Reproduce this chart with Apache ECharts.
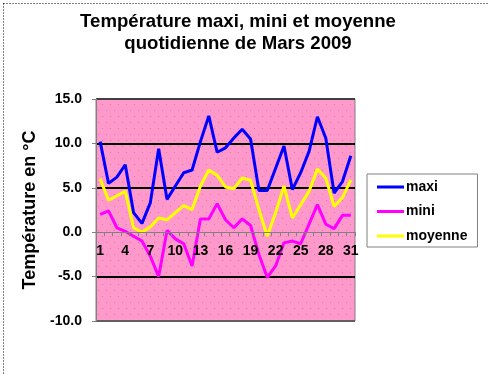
<!DOCTYPE html>
<html><head><meta charset="utf-8">
<script src="https://cdn.jsdelivr.net/npm/echarts@6/dist/echarts.min.js"></script>
<style>html,body{margin:0;padding:0;background:#fff}#c{width:488px;height:375px}</style>
</head><body><div id="c"></div>
<script>
const days = Array.from({length:31},(_,i)=>String(i+1));
const maxi = [10.2,5.5,6.2,7.6,2.2,1.0,3.3,9.4,3.7,5.2,6.7,7.0,10.2,13.1,9.0,9.5,10.6,11.6,10.5,4.7,4.7,7.2,9.7,4.8,6.7,9.1,13.0,10.6,4.4,5.7,8.6];
const mini = [2.0,2.4,0.5,0.1,-0.45,-1.0,-2.7,-5.0,0.2,-0.75,-1.3,-3.8,1.5,1.5,3.2,1.4,0.5,1.5,0.75,-2.5,-5.1,-3.8,-1.2,-1.0,-1.3,0.9,3.1,0.9,0.4,1.9,1.9];
const moyenne = [6.0,3.6,4.1,4.6,0.5,0.0,0.6,1.6,1.4,2.2,3.0,2.55,5.2,7.0,6.4,5.1,4.9,6.1,5.85,2.55,-0.45,2.2,5.2,1.6,3.1,4.6,7.1,6.1,2.9,3.9,5.9];
const yTicks = {min:-10, max:15, interval:5};
const FONT = 'Liberation Sans, Arial, sans-serif';
const GRID = {left:96, top:99, width:259, height:222};
// distance of the zero line above the bottom of the plot
const zeroOffset = GRID.height * (0 - yTicks.min) / (yTicks.max - yTicks.min);

// dotted pink plot-area fill
const tile = document.createElement('canvas');
tile.width = 8; tile.height = 12;
const tctx = tile.getContext('2d');
tctx.fillStyle = '#ff99cc'; tctx.fillRect(0,0,8,12);
tctx.fillStyle = '#d97aab'; tctx.fillRect(2,2,1,1); tctx.fillRect(6,8,1,1);
const plotFill = {image: tile, repeat: 'repeat'};

const chart = echarts.init(document.getElementById('c'), null, {renderer:'canvas'});
chart.setOption({
  animation:false,
  backgroundColor:'#fff',
  grid:Object.assign({show:true, backgroundColor:plotFill, borderColor:'#808080', borderWidth:1}, GRID),
  legend:{
    orient:'vertical', left:367, top:174,
    borderColor:'#808080', borderWidth:1, padding:[6,10,4,10],
    itemWidth:27, itemHeight:3, itemGap:10.5, icon:'rect',
    textStyle:{fontFamily:FONT, fontWeight:'bold', fontSize:14, color:'#000', padding:[0,0,0,-3]},
    data:['maxi','mini','moyenne']
  },
  xAxis:{
    type:'category', data:days, boundaryGap:true, position:'bottom', offset:-zeroOffset, z:5,
    axisLine:{onZero:false, lineStyle:{color:'#808080', width:1}},
    axisTick:{show:true, interval:0, length:4, lineStyle:{color:'#808080'}},
    axisLabel:{interval:2, margin:12, fontFamily:FONT, fontWeight:'bold', fontSize:14, color:'#000'},
    splitLine:{show:false}
  },
  yAxis:{
    type:'value', min:yTicks.min, max:yTicks.max, interval:yTicks.interval,
    name:'Température en °C', nameLocation:'middle', nameRotate:90, nameGap:57,
    nameTextStyle:{fontFamily:FONT, fontWeight:'bold', fontSize:18, color:'#000'},
    axisLine:{show:true, onZero:false, lineStyle:{color:'#808080'}},
    axisTick:{show:true, length:4, lineStyle:{color:'#808080'}},
    axisLabel:{margin:14, fontFamily:FONT, fontWeight:'bold', fontSize:14, color:'#000', formatter:v=>v.toFixed(1)},
    splitLine:{show:true, lineStyle:{width:2, color:['#606060','#000','rgba(0,0,0,0)','#000','#000','#404040']}}
  },
  series:[
    {name:'maxi', type:'line', data:maxi, showSymbol:false, symbol:'none', lineStyle:{color:'#0000ff', width:3}, itemStyle:{color:'#0000ff'}},
    {name:'mini', type:'line', data:mini, showSymbol:false, symbol:'none', lineStyle:{color:'#ff00ff', width:3}, itemStyle:{color:'#ff00ff'}},
    {name:'moyenne', type:'line', data:moyenne, showSymbol:false, symbol:'none', lineStyle:{color:'#ffff00', width:3}, itemStyle:{color:'#ffff00'}}
  ],
  graphic:[
    {type:'text', x:238, y:11, silent:true, style:{
      text:'Température maxi, mini et moyenne\nquotidienne de Mars 2009',
      align:'center', verticalAlign:'top', lineHeight:22,
      font:'bold 18.6px Liberation Sans, Arial, sans-serif', fill:'#000'}},
    {type:'rect', left:1, top:1, shape:{width:485, height:372}, style:{fill:'none', stroke:'#000', lineWidth:1, lineDash:[1,2]}, silent:true}
  ]
});
</script></body></html>
